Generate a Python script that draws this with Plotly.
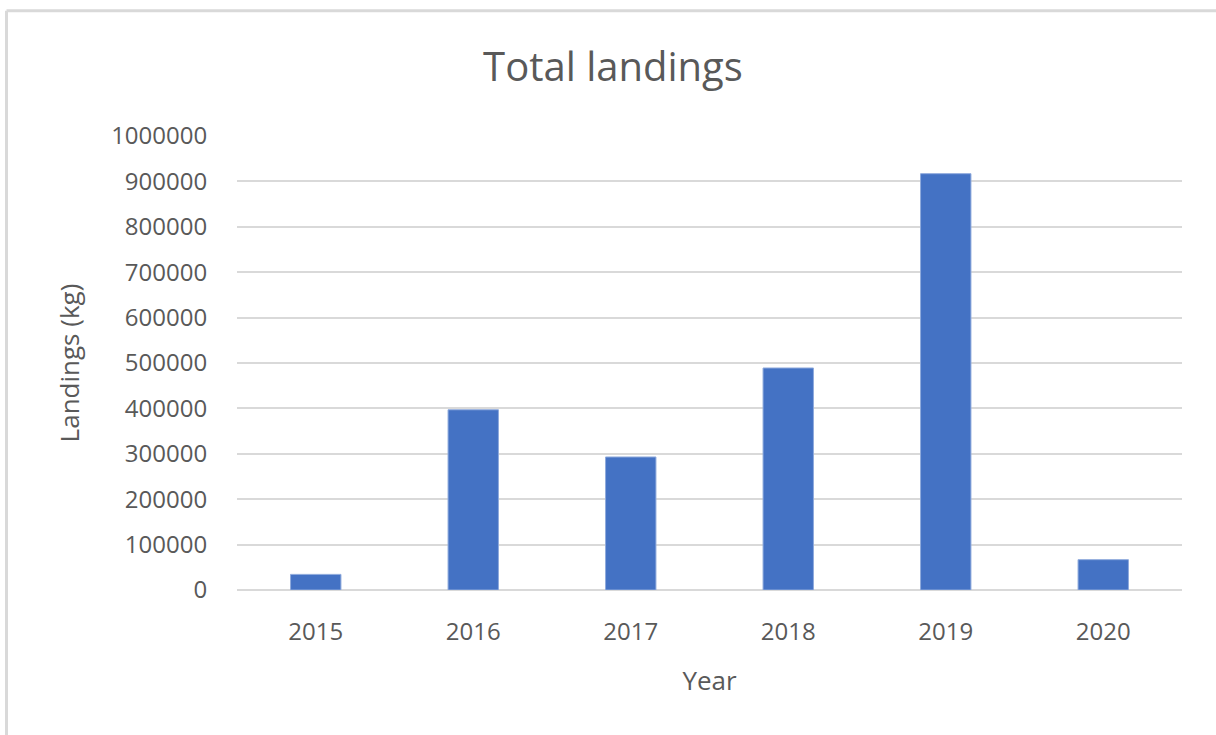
import plotly.graph_objects as go

years = ["2015", "2016", "2017", "2018", "2019", "2020"]
landings = [34400, 397000, 293000, 489000, 917000, 66800]
y_ticks = [0, 100000, 200000, 300000, 400000, 500000, 600000, 700000, 800000, 900000, 1000000]

FONT = "Open Sans"
GREY = "#595959"

fig = go.Figure()
fig.add_trace(go.Bar(
    x=years, y=landings,
    marker=dict(color="#4472C4", line=dict(color="#8faadc", width=1)),
    width=0.32,
))

L, R, T, B = 237, 34, 136, 144.5
W, H = 1216, 735
pw, ph = W - L - R, H - T - B

def px_x(x):
    return (x - L) / pw

def px_y(y):
    return (H - B - y) / ph

fig.update_layout(
    width=W, height=H,
    margin=dict(l=L, r=R, t=T, b=B, pad=0),
    paper_bgcolor="white", plot_bgcolor="white",
    showlegend=False,
    font=dict(family=FONT, color=GREY, size=25),
    title=dict(text="Total landings", x=613 / W, xanchor="center",
               y=1 - 67 / H, yanchor="middle", yref="container",
               font=dict(family=FONT, size=40, color=GREY)),
    xaxis=dict(
        type="category",
        showgrid=False, showline=False, zeroline=False,
        ticks="outside", ticklen=20, tickcolor="rgba(0,0,0,0)",
        tickfont=dict(size=24, color=GREY),
        title=dict(text="Year", font=dict(size=26, color=GREY), standoff=26),
    ),
    yaxis=dict(
        range=[0, 1000000],
        tickvals=y_ticks,
        ticktext=[str(v) for v in y_ticks],
        showgrid=True, gridcolor="#d9d9d9", gridwidth=2,
        zeroline=True, zerolinecolor="#d9d9d9", zerolinewidth=2,
        showline=False,
        ticks="outside", ticklen=24, tickcolor="rgba(0,0,0,0)",
        tickfont=dict(size=24, color=GREY),
        title=dict(text="Landings (kg)", font=dict(size=26, color=GREY), standoff=24),
    ),
    shapes=[
        dict(type="line", xref="paper", yref="paper",
             x0=px_x(6.5), x1=px_x(1230), y0=px_y(10.5), y1=px_y(10.5),
             line=dict(color="#d9d9d9", width=3)),
        dict(type="line", xref="paper", yref="paper",
             x0=px_x(6.5), x1=px_x(6.5), y0=px_y(10.5), y1=px_y(750),
             line=dict(color="#d9d9d9", width=3)),
    ],
)

fig.write_html("out.html",
               config={"displayModeBar": False},
               post_script="document.body.style.margin='0';document.body.style.overflow='hidden';")
